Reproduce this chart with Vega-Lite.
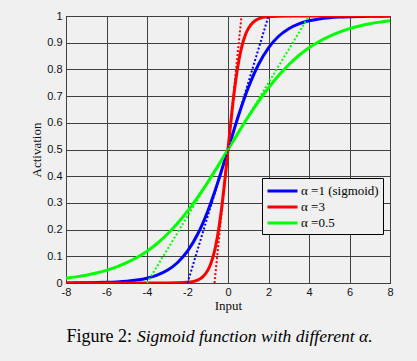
{
  "$schema": "https://vega.github.io/schema/vega-lite/v6.json",
  "width": 324,
  "height": 267,
  "autosize": {"type": "none"},
  "padding": {"left": 66, "top": 16, "right": 27, "bottom": 78},
  "background": "#f0f0f0",
  "config": {
    "view": {"stroke": "#000000", "strokeWidth": 1, "fill": "#f0f0f0"},
    "axis": {
      "labelFont": "Liberation Sans",
      "labelFontSize": 11,
      "labelColor": "#111111",
      "titleFont": "Liberation Serif",
      "titleFontSize": 13,
      "titleFontWeight": "normal",
      "titleColor": "#111111",
      "gridColor": "#404040",
      "gridOpacity": 1,
      "gridWidth": 1,
      "domain": false,
      "ticks": false
    },
    "legend": {
      "orient": "none",
      "legendX": 196,
      "legendY": 162,
      "fillColor": "#f0f0f0",
      "strokeColor": "#000000",
      "padding": 4,
      "symbolType": "M-1,0H3",
      "symbolStrokeWidth": 3,
      "symbolSize": 225,
      "labelFont": "Liberation Serif",
      "labelFontSize": 13,
      "labelColor": "#000000",
      "labelOffset": 17,
      "rowPadding": -0.5
    }
  },
  "title": {
    "text": "Figure 2:",
    "subtitle": "\u200b\u00a0\u00a0\u00a0\u00a0\u00a0\u00a0\u00a0\u00a0\u00a0\u00a0\u00a0\u00a0\u00a0\u00a0\u00a0\u00a0Sigmoid function with different α.",
    "orient": "bottom",
    "anchor": "start",
    "frame": "group",
    "dx": 0.5,
    "offset": 16,
    "font": "Liberation Serif",
    "fontSize": 18,
    "fontWeight": "normal",
    "color": "#000000",
    "subtitleFont": "Liberation Serif",
    "subtitleFontSize": 17.6,
    "subtitleFontStyle": "italic",
    "subtitleColor": "#000000",
    "subtitlePadding": -17.8
  },
  "datasets": {
    "curves": [
      {"series": "α =1 (sigmoid)", "x": -8, "y": 0.0003},
      {"series": "α =1 (sigmoid)", "x": -7.5, "y": 0.0006},
      {"series": "α =1 (sigmoid)", "x": -7, "y": 0.0009},
      {"series": "α =1 (sigmoid)", "x": -6.5, "y": 0.0015},
      {"series": "α =1 (sigmoid)", "x": -6, "y": 0.0025},
      {"series": "α =1 (sigmoid)", "x": -5.5, "y": 0.0041},
      {"series": "α =1 (sigmoid)", "x": -5, "y": 0.0067},
      {"series": "α =1 (sigmoid)", "x": -4.5, "y": 0.011},
      {"series": "α =1 (sigmoid)", "x": -4, "y": 0.018},
      {"series": "α =1 (sigmoid)", "x": -3.5, "y": 0.0293},
      {"series": "α =1 (sigmoid)", "x": -3, "y": 0.0474},
      {"series": "α =1 (sigmoid)", "x": -2.5, "y": 0.0759},
      {"series": "α =1 (sigmoid)", "x": -2, "y": 0.1192},
      {"series": "α =1 (sigmoid)", "x": -1.5, "y": 0.1824},
      {"series": "α =1 (sigmoid)", "x": -1, "y": 0.2689},
      {"series": "α =1 (sigmoid)", "x": -0.5, "y": 0.3775},
      {"series": "α =1 (sigmoid)", "x": 0, "y": 0.5},
      {"series": "α =1 (sigmoid)", "x": 0.5, "y": 0.6225},
      {"series": "α =1 (sigmoid)", "x": 1, "y": 0.7311},
      {"series": "α =1 (sigmoid)", "x": 1.5, "y": 0.8176},
      {"series": "α =1 (sigmoid)", "x": 2, "y": 0.8808},
      {"series": "α =1 (sigmoid)", "x": 2.5, "y": 0.9241},
      {"series": "α =1 (sigmoid)", "x": 3, "y": 0.9526},
      {"series": "α =1 (sigmoid)", "x": 3.5, "y": 0.9707},
      {"series": "α =1 (sigmoid)", "x": 4, "y": 0.982},
      {"series": "α =1 (sigmoid)", "x": 4.5, "y": 0.989},
      {"series": "α =1 (sigmoid)", "x": 5, "y": 0.9933},
      {"series": "α =1 (sigmoid)", "x": 5.5, "y": 0.9959},
      {"series": "α =1 (sigmoid)", "x": 6, "y": 0.9975},
      {"series": "α =1 (sigmoid)", "x": 6.5, "y": 0.9985},
      {"series": "α =1 (sigmoid)", "x": 7, "y": 0.9991},
      {"series": "α =1 (sigmoid)", "x": 7.5, "y": 0.9994},
      {"series": "α =1 (sigmoid)", "x": 8, "y": 0.9997},
      {"series": "α =3", "x": -8, "y": 0},
      {"series": "α =3", "x": -4, "y": 0},
      {"series": "α =3", "x": -3, "y": 0.0001},
      {"series": "α =3", "x": -2.5, "y": 0.0006},
      {"series": "α =3", "x": -2, "y": 0.0025},
      {"series": "α =3", "x": -1.75, "y": 0.0052},
      {"series": "α =3", "x": -1.5, "y": 0.011},
      {"series": "α =3", "x": -1.25, "y": 0.023},
      {"series": "α =3", "x": -1, "y": 0.0474},
      {"series": "α =3", "x": -0.875, "y": 0.0676},
      {"series": "α =3", "x": -0.75, "y": 0.0954},
      {"series": "α =3", "x": -0.625, "y": 0.133},
      {"series": "α =3", "x": -0.5, "y": 0.1824},
      {"series": "α =3", "x": -0.375, "y": 0.2451},
      {"series": "α =3", "x": -0.25, "y": 0.3208},
      {"series": "α =3", "x": -0.125, "y": 0.4073},
      {"series": "α =3", "x": 0, "y": 0.5},
      {"series": "α =3", "x": 0.125, "y": 0.5927},
      {"series": "α =3", "x": 0.25, "y": 0.6792},
      {"series": "α =3", "x": 0.375, "y": 0.7549},
      {"series": "α =3", "x": 0.5, "y": 0.8176},
      {"series": "α =3", "x": 0.625, "y": 0.867},
      {"series": "α =3", "x": 0.75, "y": 0.9046},
      {"series": "α =3", "x": 0.875, "y": 0.9324},
      {"series": "α =3", "x": 1, "y": 0.9526},
      {"series": "α =3", "x": 1.25, "y": 0.977},
      {"series": "α =3", "x": 1.5, "y": 0.989},
      {"series": "α =3", "x": 1.75, "y": 0.9948},
      {"series": "α =3", "x": 2, "y": 0.9975},
      {"series": "α =3", "x": 2.5, "y": 0.9994},
      {"series": "α =3", "x": 3, "y": 0.9999},
      {"series": "α =3", "x": 4, "y": 1},
      {"series": "α =3", "x": 8, "y": 1},
      {"series": "α =0.5", "x": -8, "y": 0.018},
      {"series": "α =0.5", "x": -7.5, "y": 0.023},
      {"series": "α =0.5", "x": -7, "y": 0.0293},
      {"series": "α =0.5", "x": -6.5, "y": 0.0373},
      {"series": "α =0.5", "x": -6, "y": 0.0474},
      {"series": "α =0.5", "x": -5.5, "y": 0.0601},
      {"series": "α =0.5", "x": -5, "y": 0.0759},
      {"series": "α =0.5", "x": -4.5, "y": 0.0953},
      {"series": "α =0.5", "x": -4, "y": 0.1192},
      {"series": "α =0.5", "x": -3.5, "y": 0.148},
      {"series": "α =0.5", "x": -3, "y": 0.1824},
      {"series": "α =0.5", "x": -2.5, "y": 0.2227},
      {"series": "α =0.5", "x": -2, "y": 0.2689},
      {"series": "α =0.5", "x": -1.5, "y": 0.3208},
      {"series": "α =0.5", "x": -1, "y": 0.3775},
      {"series": "α =0.5", "x": -0.5, "y": 0.4378},
      {"series": "α =0.5", "x": 0, "y": 0.5},
      {"series": "α =0.5", "x": 0.5, "y": 0.5622},
      {"series": "α =0.5", "x": 1, "y": 0.6225},
      {"series": "α =0.5", "x": 1.5, "y": 0.6792},
      {"series": "α =0.5", "x": 2, "y": 0.7311},
      {"series": "α =0.5", "x": 2.5, "y": 0.7773},
      {"series": "α =0.5", "x": 3, "y": 0.8176},
      {"series": "α =0.5", "x": 3.5, "y": 0.852},
      {"series": "α =0.5", "x": 4, "y": 0.8808},
      {"series": "α =0.5", "x": 4.5, "y": 0.9047},
      {"series": "α =0.5", "x": 5, "y": 0.9241},
      {"series": "α =0.5", "x": 5.5, "y": 0.9399},
      {"series": "α =0.5", "x": 6, "y": 0.9526},
      {"series": "α =0.5", "x": 6.5, "y": 0.9627},
      {"series": "α =0.5", "x": 7, "y": 0.9707},
      {"series": "α =0.5", "x": 7.5, "y": 0.977},
      {"series": "α =0.5", "x": 8, "y": 0.982}
    ],
    "tangents": [
      {"series": "α =1 (sigmoid)", "x": -2, "y": 0},
      {"series": "α =1 (sigmoid)", "x": 2, "y": 1},
      {"series": "α =3", "x": -0.6667, "y": 0},
      {"series": "α =3", "x": 0.6667, "y": 1},
      {"series": "α =0.5", "x": -4, "y": 0},
      {"series": "α =0.5", "x": 4, "y": 1}
    ]
  },
  "encoding": {
    "x": {
      "field": "x", "type": "quantitative",
      "scale": {"domain": [-8, 8], "nice": false, "zero": false},
      "axis": {"values": [-8, -6, -4, -2, 0, 2, 4, 6, 8], "labelExpr": "'' + datum.value", "title": "Input", "labelPadding": 3, "titlePadding": 2, "labelFlush": false}
    },
    "y": {
      "field": "y", "type": "quantitative",
      "scale": {"domain": [0, 1], "nice": false},
      "axis": {"values": [0, 0.1, 0.2, 0.3, 0.4, 0.5, 0.6, 0.7, 0.8, 0.9, 1], "labelExpr": "'' + datum.value", "title": "Activation", "labelPadding": 4, "titlePadding": 3}
    }
  },
  "layer": [
    {
      "data": {"name": "curves"},
      "mark": {"type": "line", "strokeWidth": 3, "interpolate": "monotone", "clip": true},
      "encoding": {
        "color": {
          "field": "series", "type": "nominal",
          "scale": {"domain": ["α =1 (sigmoid)", "α =3", "α =0.5"], "range": ["#0000ff", "#ff0000", "#00ff00"]},
          "legend": {"title": null}
        }
      }
    },
    {
      "data": {"name": "tangents"},
      "mark": {"type": "line", "strokeWidth": 2, "strokeDash": [2, 2]},
      "encoding": {
        "color": {"field": "series", "type": "nominal", "legend": null}
      }
    }
  ]
}
